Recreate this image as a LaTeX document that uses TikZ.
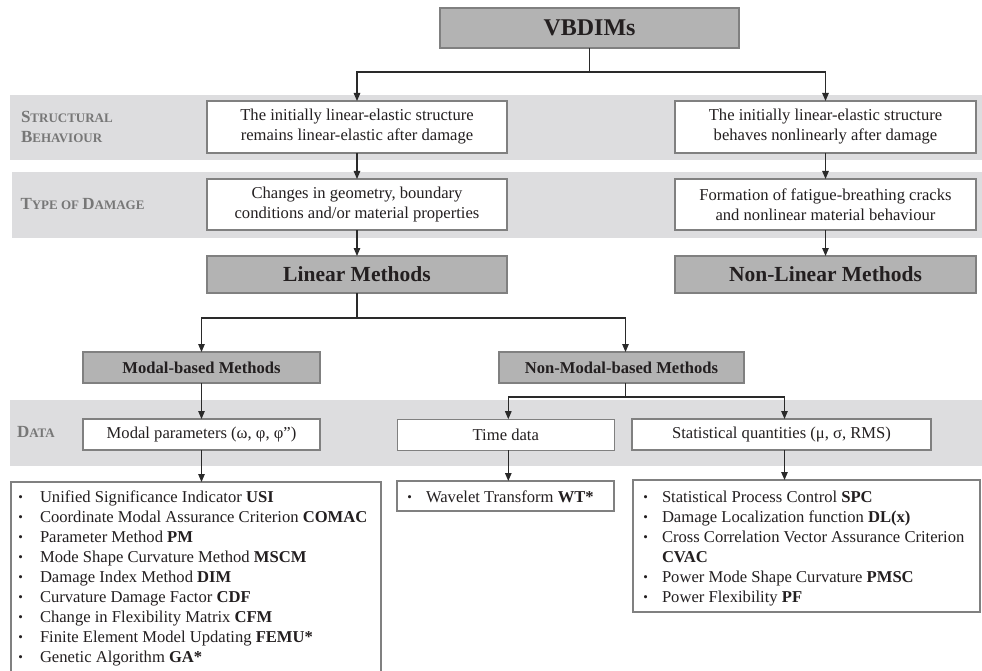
\documentclass[tikz,border=0pt]{standalone}
\usepackage{fontspec}
\setmainfont{Liberation Serif}
\usetikzlibrary{arrows.meta}
\definecolor{boxgray}{HTML}{B3B3B3}
\definecolor{bandgray}{HTML}{DDDDDF}
\definecolor{edgegray}{HTML}{808080}
\definecolor{labelgray}{HTML}{777777}
\definecolor{inkdark}{HTML}{231F20}
\definecolor{linedark}{HTML}{2A2A2A}
\newcommand{\fsc}[2]{{\fontsize{17}{20}\selectfont #1}{\fontsize{13}{20}\selectfont #2}}
\newcommand{\bul}{\raisebox{0.6pt}{\fontsize{13}{13}\selectfont •}}
\begin{document}
\begin{tikzpicture}[x=1pt,y=-1pt,
  every node/.style={inner sep=0pt, outer sep=0pt, text=inkdark},
  graybox/.style={draw=edgegray, fill=boxgray, line width=1.4pt, align=center},
  whitebox/.style={draw=edgegray, fill=white, line width=1.4pt, align=center, font=\fontsize{16.6}{20}\selectfont},
  conn/.style={draw=linedark, line width=1.1pt},
  arr/.style={conn, -{Triangle[length=8pt,width=6.5pt]}},
  bandlabel/.style={anchor=base west, text=labelgray, font=\bfseries},
  listitem/.style={anchor=base west, font=\fontsize{16.6}{20}\selectfont},
]
\useasboundingbox (0,0) rectangle (982,671);
\clip (0,0) rectangle (982,671);
\fill[white] (0,0) rectangle (982,671);
% bands
\fill[bandgray] (10,95) rectangle (982,160);
\fill[bandgray] (12,172) rectangle (982,238);
\fill[bandgray] (10,400) rectangle (982,466);
% band labels
\node[bandlabel] (lblsb1) at (21,123) {\fsc{S}{TRUCTURAL}};
\node[bandlabel] (lblsb2) at (21,142.5) {\fsc{B}{EHAVIOUR}};
\node[bandlabel] (lbltd) at (20.5,210) {\fsc{T}{YPE OF }\fsc{D}{AMAGE}};
\node[bandlabel] (lbldata) at (17,437.5) {\fsc{D}{ATA}};
% boxes
\node[graybox, minimum width=299pt, minimum height=40pt, font=\fontsize{24}{28}\selectfont\bfseries] (vb) at (589.5,28) {VBDIMs};
\node[whitebox, minimum width=300pt, minimum height=52pt] (sb1) at (357,127) {The initially linear-elastic structure\\remains linear-elastic after damage};
\node[whitebox, minimum width=301pt, minimum height=52pt] (sb2) at (825.5,127) {The initially linear-elastic structure\\behaves nonlinearly after damage};
\node[whitebox, minimum width=300pt, minimum height=51pt] (td1) at (357,204.5) {Changes in geometry, boundary\\conditions and/or material properties};
\node[whitebox, minimum width=301pt, minimum height=51pt] (td2) at (825.5,204.5) {Formation of fatigue-breathing cracks\\and nonlinear material behaviour};
\node[graybox, minimum width=300pt, minimum height=37pt, font=\fontsize{21.5}{24}\selectfont\bfseries] (lm) at (357,274.5) {Linear Methods};
\node[graybox, minimum width=301pt, minimum height=37pt, font=\fontsize{21.5}{24}\selectfont\bfseries] (nlm) at (825.5,274.5) {Non-Linear Methods};
\node[graybox, minimum width=237pt, minimum height=31pt, font=\fontsize{16.6}{20}\selectfont\bfseries] (mb) at (201.5,367.5) {Modal-based Methods};
\node[graybox, minimum width=245pt, minimum height=31pt, font=\fontsize{16.6}{20}\selectfont\bfseries] (nmb) at (621.5,367.5) {Non-Modal-based Methods};
\node[whitebox, minimum width=237pt, minimum height=31pt] (mp) at (201.5,434.5) {Modal parameters (ω, φ, φ”)};
\node[whitebox, minimum width=217pt, minimum height=31pt] (time) at (505.8,434.7) {Time data};
\node[whitebox, minimum width=299pt, minimum height=31pt] (stat) at (781.5,434.5) {Statistical quantities (μ, σ, RMS)};
% list boxes
\node[whitebox, minimum width=370pt, minimum height=218pt] (ml) at (196,591) {};
\node[whitebox, minimum width=217pt, minimum height=30pt] (wt) at (505.5,496) {};
\node[whitebox, minimum width=347pt, minimum height=132pt] (sl) at (806.5,546) {};
% list items
\foreach \txt [count=\i] in {Unified Significance Indicator \textbf{USI},
  Coordinate Modal Assurance Criterion \textbf{COMAC},
  Parameter Method \textbf{PM},
  Mode Shape Curvature Method \textbf{MSCM},
  Damage Index Method \textbf{DIM},
  Curvature Damage Factor \textbf{CDF},
  Change in Flexibility Matrix \textbf{CFM},
  Finite Element Model Updating \textbf{FEMU*},
  Genetic Algorithm \textbf{GA*}}
  \node[listitem] (mli\i) at (40,482.5+20*\i) {\llap{\bul\hspace{17pt}}\txt};
\node[listitem] (wti) at (426,502.5) {\llap{\bul\hspace{14pt}}Wavelet Transform \textbf{WT*}};
\node[listitem] (sli1) at (662,502) {\llap{\bul\hspace{14pt}}Statistical Process Control \textbf{SPC}};
\node[listitem] (sli2) at (662,522) {\llap{\bul\hspace{14pt}}Damage Localization function \textbf{DL(x)}};
\node[listitem] (sli3) at (662,542) {\llap{\bul\hspace{14pt}}Cross Correlation Vector Assurance Criterion};
\node[listitem] (sli3b) at (662,562) {\textbf{CVAC}};
\node[listitem] (sli4) at (662,582) {\llap{\bul\hspace{14pt}}Power Mode Shape Curvature \textbf{PMSC}};
\node[listitem] (sli5) at (662,602) {\llap{\bul\hspace{14pt}}Power Flexibility \textbf{PF}};
% connectors
\draw[arr] (vb.south) -- ++(0,24) -| (sb1.north);
\draw[arr] (vb.south) -- ++(0,24) -| (sb2.north);
\draw[arr] (sb1.south) -- (td1.north);
\draw[arr] (sb2.south) -- (td2.north);
\draw[arr] (td1.south) -- (lm.north);
\draw[arr] (td2.south) -- (nlm.north);
\draw[arr] (lm.south) -- ++(0,25) -| (mb.north);
\draw[arr] (lm.south) -- ++(0,25) -| ([xshift=4pt]nmb.north);
\draw[arr] (mb.south) -- (mp.north);
\draw[arr] ([xshift=4pt]nmb.south) -- ++(0,14) -| ([xshift=2.5pt]time.north);
\draw[arr] ([xshift=4pt]nmb.south) -- ++(0,14) -| ([xshift=3pt]stat.north);
\draw[arr] (mp.south) -- (mp.south |- ml.north);
\draw[arr] ([xshift=2.5pt]time.south) -- ([xshift=2.5pt]time.south |- wt.north);
\draw[arr] ([xshift=3pt]stat.south) -- ([xshift=3pt]stat.south |- sl.north);
\end{tikzpicture}
\end{document}
